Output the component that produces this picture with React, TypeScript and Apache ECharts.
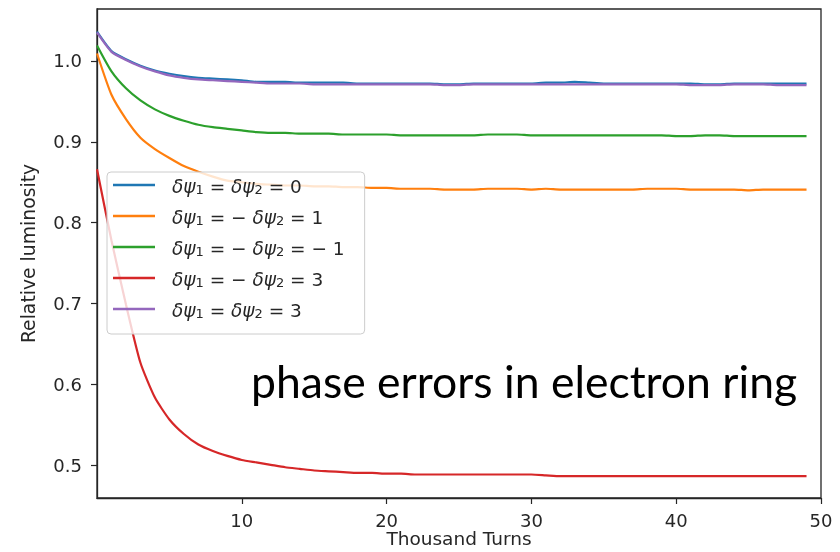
import React, { useEffect, useRef } from "react";
import * as echarts from "echarts";

const turns = [0,1,2,3,4,5,6,7,8,9,10,11,12,13,14,15,16,17,18,19,20,21,22,23,24,25,26,27,28,29,30,31,32,33,34,35,36,37,38,39,40,41,42,43,44,45,46,47,48,49];

const seriesNames = [
  "δψ1 = δψ2 = 0",
  "δψ1 = -δψ2 = 1",
  "δψ1 = -δψ2 = -1",
  "δψ1 = -δψ2 = 3",
  "δψ1 = δψ2 = 3",
];

const legendRich = [
  "{g0|δψ}{s|1}{n| = }{g|δψ}{s|2}{n| = 0}",
  "{g0|δψ}{s|1}{n| = − }{g|δψ}{s|2}{n| = 1}",
  "{g0|δψ}{s|1}{n| = − }{g|δψ}{s|2}{n| = − 1}",
  "{g0|δψ}{s|1}{n| = − }{g|δψ}{s|2}{n| = 3}",
  "{g0|δψ}{s|1}{n| = }{g|δψ}{s|2}{n| = 3}",
];

const colors = ["#1f77b4", "#ff7f0e", "#2ca02c", "#d62728", "#9467bd"];

const zeroZero = [1.036,1.012,1.002,0.994,0.988,0.984,0.981,0.979,0.978,0.977,0.976,0.974,0.974,0.974,0.973,0.973,0.973,0.973,0.972,0.972,0.972,0.972,0.972,0.972,0.971,0.971,0.972,0.972,0.972,0.972,0.972,0.973,0.973,0.974,0.973,0.972,0.972,0.972,0.972,0.972,0.972,0.972,0.971,0.971,0.972,0.972,0.972,0.972,0.972,0.972];
const minusOne = [1.009,0.958,0.928,0.905,0.891,0.880,0.870,0.863,0.857,0.852,0.850,0.848,0.847,0.846,0.846,0.845,0.845,0.844,0.844,0.843,0.843,0.842,0.842,0.842,0.841,0.841,0.841,0.842,0.842,0.842,0.841,0.842,0.841,0.841,0.841,0.841,0.841,0.841,0.842,0.842,0.842,0.841,0.841,0.841,0.841,0.840,0.841,0.841,0.841,0.841];
const minusMinusOne = [1.019,0.987,0.966,0.951,0.940,0.932,0.926,0.921,0.918,0.916,0.914,0.912,0.911,0.911,0.910,0.910,0.910,0.909,0.909,0.909,0.909,0.908,0.908,0.908,0.908,0.908,0.908,0.909,0.909,0.909,0.908,0.908,0.908,0.908,0.908,0.908,0.908,0.908,0.908,0.908,0.907,0.907,0.908,0.908,0.907,0.907,0.907,0.907,0.907,0.907];
const minusThree = [0.866,0.778,0.699,0.627,0.584,0.557,0.539,0.526,0.518,0.512,0.507,0.504,0.501,0.498,0.496,0.494,0.493,0.492,0.491,0.491,0.490,0.490,0.489,0.489,0.489,0.489,0.489,0.489,0.489,0.489,0.489,0.488,0.487,0.487,0.487,0.487,0.487,0.487,0.487,0.487,0.487,0.487,0.487,0.487,0.487,0.487,0.487,0.487,0.487,0.487];
const plusThree = [1.035,1.011,1.001,0.993,0.987,0.982,0.979,0.977,0.976,0.975,0.974,0.973,0.972,0.972,0.972,0.971,0.971,0.971,0.971,0.971,0.971,0.971,0.971,0.971,0.970,0.970,0.971,0.971,0.971,0.971,0.971,0.971,0.971,0.971,0.971,0.971,0.971,0.971,0.971,0.971,0.971,0.970,0.970,0.970,0.971,0.971,0.971,0.970,0.970,0.970];

const yTicks = [0.5, 0.6, 0.7, 0.8, 0.9, 1.0];
const xTicks = [10, 20, 30, 40, 50];

const allSeries = [zeroZero, minusOne, minusMinusOne, minusThree, plusThree];

export default function App() {
  const ref = useRef<HTMLDivElement>(null);
  useEffect(() => {
    if (!ref.current) return;
    const chart = echarts.init(ref.current, null, { renderer: "svg" });
    const axisColor = "#262626";
    const font = "DejaVu Sans";
    const baseRich = {
      g: { fontFamily: font, fontStyle: "italic", fontSize: 18.5, color: axisColor, lineHeight: 22, verticalAlign: "bottom" },
      g0: { fontFamily: font, fontStyle: "italic", fontSize: 18.5, color: axisColor, lineHeight: 22, verticalAlign: "bottom", padding: [0, 0, 0, 12] },
      s: { fontFamily: font, fontSize: 13, color: axisColor, lineHeight: 13, verticalAlign: "bottom" },
      n: { fontFamily: font, fontSize: 18.5, color: axisColor, lineHeight: 22, verticalAlign: "bottom" },
    };
    chart.setOption({
      animation: false,
      color: colors,
      grid: {
        left: 97, right: 19, top: 9, bottom: 54,
        show: true, borderColor: axisColor, borderWidth: 1.3,
        outerBoundsMode: "none", containLabel: false,
      },
      xAxis: {
        type: "value", min: 0, max: 50,
        name: "Thousand Turns", nameLocation: "middle", nameGap: 30, nameMoveOverlap: false,
        nameTextStyle: { fontFamily: font, fontSize: 18.5, lineHeight: 20, color: axisColor },
        axisLine: { show: true, lineStyle: { color: axisColor, width: 1.3 } },
        axisTick: { show: true, length: 6, customValues: xTicks, lineStyle: { color: axisColor, width: 1.2 } },
        axisLabel: { customValues: xTicks, margin: 13, fontFamily: font, fontSize: 18, color: axisColor },
        splitLine: { show: false },
      },
      yAxis: {
        type: "value", min: 0.46, max: 1.064,
        name: "Relative luminosity", nameLocation: "middle", nameGap: 59, nameRotate: 90, nameMoveOverlap: false,
        nameTextStyle: { fontFamily: font, fontSize: 18.8, color: axisColor },
        axisLine: { show: true, lineStyle: { color: axisColor, width: 1.3 } },
        axisTick: { show: true, length: 6, customValues: yTicks, lineStyle: { color: axisColor, width: 1.2 } },
        axisLabel: { customValues: yTicks, margin: 15, fontFamily: font, fontSize: 18, color: axisColor,
          formatter: (v: number) => v.toFixed(1) },
        splitLine: { show: false },
      },
      legend: {
        orient: "vertical", left: 107, top: 172,
        padding: [5, 20, 14, 6],
        itemGap: 12, itemWidth: 42, itemHeight: 2.6, icon: "rect",
        backgroundColor: "rgba(255,255,255,0.8)", borderColor: "#cccccc", borderWidth: 1, borderRadius: 4,
        data: seriesNames,
        formatter: (name: string) => legendRich[seriesNames.indexOf(name)],
        textStyle: { rich: baseRich },
      },
      graphic: [
        {
          type: "text", left: 251, top: 358, z: 100,
          style: { text: "phase errors in electron ring", fontFamily: "Lato", fontSize: 44.5, fill: "#000" },
        },
      ],
      series: allSeries.map((vals, i) => ({
        name: seriesNames[i],
        type: "line",
        showSymbol: false,
        symbol: "none",
        smooth: 0.2,
        lineStyle: { width: 2.2, color: colors[i] },
        itemStyle: { color: colors[i] },
        data: turns.map((t, j) => [t, vals[j]]),
      })),
    });
    return () => chart.dispose();
  }, []);
  return <div ref={ref} style={{ position: "fixed", left: 0, top: 0, width: 840, height: 552 }} />;
}
